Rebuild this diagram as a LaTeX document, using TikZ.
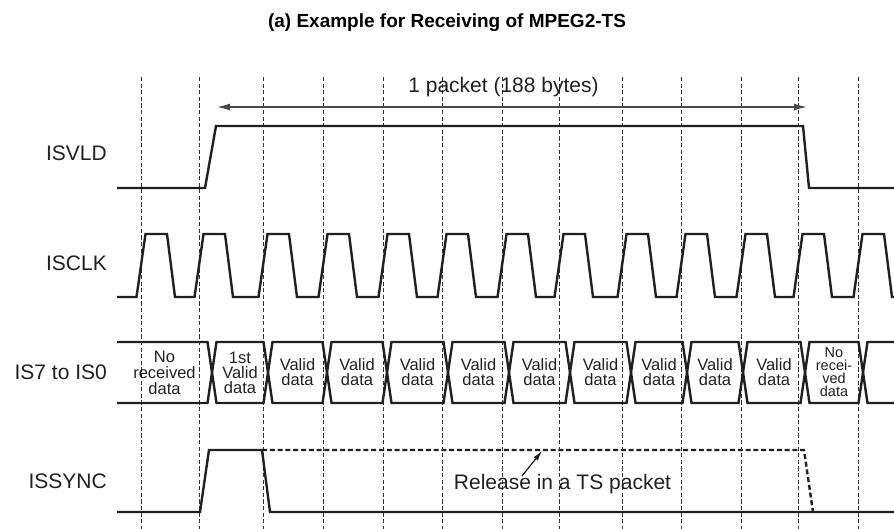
\documentclass[tikz,border=0pt]{standalone}
\usepackage{fontspec}
\setmainfont{Liberation Sans}
\usetikzlibrary{arrows.meta}
\definecolor{sigc}{HTML}{231F20}
\definecolor{gridc}{HTML}{333333}
\definecolor{arrc}{HTML}{4A4A4A}
\begin{document}
\begin{tikzpicture}[x=1pt,y=-1pt,
  sig/.style={line width=2.4pt, draw=sigc, line join=miter},
  sigdash/.style={line width=2.4pt, draw=sigc, dash pattern=on 5pt off 2.8pt},
  gridline/.style={line width=0.95pt, draw=gridc, dash pattern=on 4.2pt off 2.4pt},
  lbl/.style={font=\fontsize{21}{25}\selectfont, anchor=base east, inner sep=0pt, text=sigc},
  dat/.style={font=\fontsize{16.5}{15}\selectfont, align=center, inner sep=0pt, text=sigc},
  datnr/.style={font=\fontsize{16.5}{16}\selectfont, align=center, inner sep=0pt, text=sigc},
  datsm/.style={font=\fontsize{14.5}{13}\selectfont, align=center, inner sep=0pt, text=sigc},
]
\useasboundingbox (0,0) rectangle (894,529);

% title
\node[font=\bfseries\fontsize{19}{23}\selectfont, anchor=base, inner sep=0pt, text=black] (title) at (447,28) {(a) Example for Receiving of MPEG2-TS};

% grid lines
\foreach \x in {141,199,263,323,383,442,502,559,622,681,741,798,858}
  \draw[gridline] (\x,77) -- (\x,529);

% labels
\node[lbl] (lvld) at (107,161) {ISVLD};
\node[lbl] (lclk) at (107,271) {ISCLK};
\node[lbl] (ldat) at (107,379) {IS7 to IS0};
\node[lbl] (lsync) at (107,488) {ISSYNC};

% packet arrow
\coordinate (pl) at (217,107);
\coordinate (pr) at (807,107);
\draw[line width=1.3pt, draw=arrc, {Latex[length=13pt,width=7pt]}-{Latex[length=13pt,width=7pt]}] (pl) -- (pr);
\node[font=\fontsize{21}{25}\selectfont, anchor=base, inner sep=0pt, text=sigc] (pkt) at (503.5,93) {1 packet (188 bytes)};

% ISVLD
\draw[sig] (117,188) -- (205,188) -- (216,126) -- (803,126) -- (809,188) -- (894,188);

% ISCLK
\draw[sig] (117,297)
  \foreach \d in {141,199,263,323,383,442,502,559,622,681,741,798,858}
  { -- ({\d-4.5},297) -- ({\d+4.5},234) -- ({\d+26},234) -- ({\d+34},297) }
  -- (894,297);

% Data bus
\def\w{4.5}
\def\tp{342}\def\bt{403}\def\md{372.5}
\draw[sig] (117,\tp) -- ({212-\w},\tp) -- (212,\md) -- ({212-\w},\bt) -- (117,\bt);
\foreach \a/\b in {212/268,268/327,327/387,387/448,448/509,509/570,570/631,631/687,687/743,743/805,805/863}
  \draw[sig] (\a,\md) -- ({\a+\w},\tp) -- ({\b-\w},\tp) -- (\b,\md) -- ({\b-\w},\bt) -- ({\a+\w},\bt) -- cycle;
\draw[sig] (894,\tp) -- ({863+\w},\tp) -- (863,\md) -- ({863+\w},\bt) -- (894,\bt);

\node[datnr] (d0) at (164.5,\md) {No\\received\\data};
\node[dat] (d1) at (240,\md) {1st\\Valid\\data};
\foreach \a/\b [count=\i from 2] in {268/327,327/387,387/448,448/509,509/570,570/631,631/687,687/743,743/805}
  \node[dat] (d\i) at ({(\a+\b)/2},\md) {Valid\\data};
\node[datsm] (d11) at (834,\md) {No\\recei-\\ved\\data};

% ISSYNC
\draw[sig] (117,512) -- (200,512) -- (209,450) -- (262,450) -- (270,512) -- (894,512);
\draw[sigdash] (262,450) -- (804,450) -- (813,512);

% release annotation
\node[font=\fontsize{21}{25}\selectfont, anchor=base, inner sep=0pt, text=sigc] (rel) at (562.5,489) {Release in a TS packet};
\coordinate (relfrom) at (522,476);
\coordinate (relto) at (542,451);
\draw[line width=1.2pt, draw=sigc, -{Latex[length=10pt,width=5.5pt]}] (relfrom) -- (relto);
\end{tikzpicture}
\end{document}
